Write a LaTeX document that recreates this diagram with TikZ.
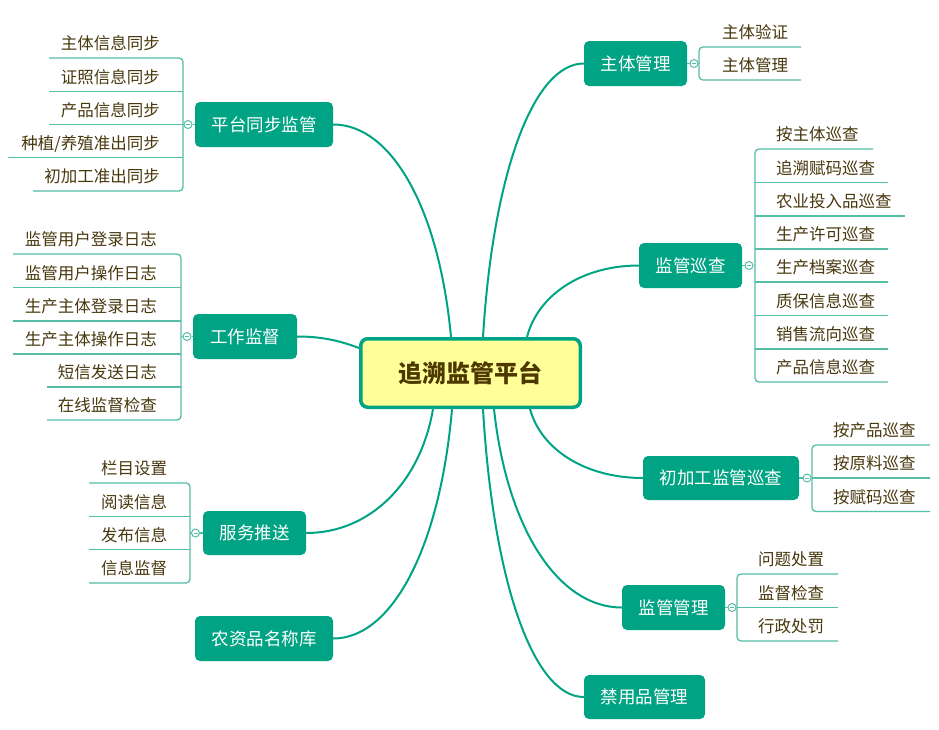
\documentclass[tikz,border=0pt]{standalone}
\usepackage{fontspec}
\setmainfont{Noto Sans CJK SC}
\definecolor{tealnode}{RGB}{0,163,131}
\definecolor{brkc}{RGB}{84,190,166}
\definecolor{leafc}{RGB}{72,56,14}
\definecolor{rootfill}{RGB}{255,255,153}
\definecolor{roottext}{RGB}{77,56,0}
\begin{document}
\begin{tikzpicture}[x=1pt,y=-1pt,
  branch/.style={rounded corners=5pt, fill=tealnode, text=white, font=\fontsize{17.5}{20}\selectfont, inner sep=0pt, minimum height=45pt},
  rootnode/.style={rounded corners=7pt, fill=rootfill, draw=tealnode, line width=3.5pt, text=roottext, font=\fontsize{24}{28}\selectfont\bfseries, inner sep=0pt, minimum width=219.5pt, minimum height=68.5pt},
  leaf/.style={text=leafc, font=\fontsize{16.5}{19}\selectfont, inner sep=0pt},
  link/.style={draw=tealnode, line width=2pt},
  brk/.style={draw=brkc, line width=1.3pt, rounded corners=4pt},
  brkl/.style={draw=brkc, line width=1.3pt},
  tog/.style={circle, draw=brkc, fill=white, line width=1pt, minimum size=8pt, inner sep=0pt}]
\useasboundingbox (0,0) rectangle (939,729);
\fill[white] (0,0) rectangle (939,729);

% root
\node[rootnode] (root) at (470.5,373) {追溯监管平台};

% branch nodes
\node[branch, minimum width=138pt] (ptsync) at (264,124.5) {平台同步监管};
\node[branch, minimum width=104pt] (gzjd) at (245,336.5) {工作监督};
\node[branch, minimum width=103pt, minimum height=44pt] (fwts) at (254.5,533) {服务推送};
\node[branch, minimum width=138pt] (nzp) at (264,638.5) {农资品名称库};
\node[branch, minimum width=103pt] (ztgl) at (635.5,63.5) {主体管理};
\node[branch, minimum width=103pt] (jgxc) at (690.5,265.5) {监管巡查};
\node[branch, minimum width=156pt, minimum height=44pt] (cjg) at (721,478) {初加工监管巡查};
\node[branch, minimum width=103pt] (jggl) at (673.5,607.5) {监管管理};
\node[branch, minimum width=121pt, minimum height=44pt] (jyp) at (644.5,697) {禁用品管理};

% connectors root -> branches
\draw[link] ([xshift=-19.5pt]root.north) .. controls (439.2,209.5) and (392,124.5) .. (ptsync.east);
\draw[link] ([xshift=12.5pt]root.north) .. controls (493.1,172.9) and (533.5,63.5) .. (ztgl.west);
\draw[link] ([xshift=56.5pt]root.north) .. controls (538.2,294.1) and (583,265.5) .. (jgxc.west);
\draw[link] ([yshift=25pt]root.west) .. controls (338,340) and (320,336.5) .. (gzjd.east);
\draw[link] ([xshift=-37.5pt]root.south) .. controls (420.3,483.4) and (369.5,533) .. (fwts.east);
\draw[link] ([xshift=-18.5pt]root.south) .. controls (440.1,546.7) and (392.5,638.5) .. (nzp.east);
\draw[link] ([xshift=12.5pt]root.south) .. controls (493.1,581.8) and (533.5,697) .. (jyp.west);
\draw[link] ([xshift=23.5pt]root.south) .. controls (506.8,528.1) and (558,607.5) .. (jggl.west);
\draw[link] ([xshift=59.5pt]root.south) .. controls (541.3,450.4) and (586.5,478) .. (cjg.west);

% ---------- group: 平台同步监管 ----------
\node[leaf, anchor=base east] (pt1) at (160,49.5) {主体信息同步};
\node[leaf, anchor=base east] (pt2) at (160,83) {证照信息同步};
\node[leaf, anchor=base east] (pt3) at (160,116) {产品信息同步};
\node[leaf, anchor=base east] (pt4) at (160,149) {种植/养殖准出同步};
\node[leaf, anchor=base east] (pt5) at (160,182.5) {初加工准出同步};
\draw[brk] (49,58) -- (183,58) -- (183,191) -- (33,191);
\draw[brkl] (49,91.5) -- (183,91.5);
\draw[brkl] (49,124.5) -- (183,124.5);
\draw[brkl] (8,157.5) -- (183,157.5);
\coordinate (ptb) at (183,124.5);
\node[tog] (ptt) at (188,124.5) {};
\draw[brkl] (ptb) -- (ptt.west);
\draw[brkl] (ptt.east) -- (ptsync.west);

% ---------- group: 工作监督 ----------
\node[leaf, anchor=base east] (gz1) at (157,245.5) {监管用户登录日志};
\node[leaf, anchor=base east] (gz2) at (157,279) {监管用户操作日志};
\node[leaf, anchor=base east] (gz3) at (157,312.5) {生产主体登录日志};
\node[leaf, anchor=base east] (gz4) at (157,345.5) {生产主体操作日志};
\node[leaf, anchor=base east] (gz5) at (157,378.5) {短信发送日志};
\node[leaf, anchor=base east] (gz6) at (157,411.5) {在线监督检查};
\draw[brk] (13,254) -- (181,254) -- (181,420) -- (47,420);
\draw[brkl] (13,287.5) -- (181,287.5);
\draw[brkl] (13,321) -- (181,321);
\draw[brkl] (13,354) -- (181,354);
\draw[brkl] (47,387) -- (181,387);
\coordinate (gzb) at (181,336.5);
\node[tog] (gzt) at (187,336.5) {};
\draw[brkl] (gzb) -- (gzt.west);
\draw[brkl] (gzt.east) -- (gzjd.west);

% ---------- group: 服务推送 ----------
\node[leaf, anchor=base west] (fw1) at (101,474.5) {栏目设置};
\node[leaf, anchor=base west] (fw2) at (101,508) {阅读信息};
\node[leaf, anchor=base west] (fw3) at (101,541) {发布信息};
\node[leaf, anchor=base west] (fw4) at (101,574.5) {信息监督};
\draw[brk] (89,483) -- (190,483) -- (190,583) -- (89,583);
\draw[brkl] (89,516.5) -- (190,516.5);
\draw[brkl] (89,549.5) -- (190,549.5);
\coordinate (fwb) at (190,533);
\node[tog] (fwt) at (195.5,533) {};
\draw[brkl] (fwb) -- (fwt.west);
\draw[brkl] (fwt.east) -- (fwts.west);

% ---------- group: 主体管理 ----------
\node[leaf, anchor=base west] (zt1) at (722,38.5) {主体验证};
\node[leaf, anchor=base west] (zt2) at (722,71.5) {主体管理};
\draw[brk] (801,47) -- (699,47) -- (699,80) -- (801,80);
\coordinate (ztb) at (699,63.5);
\node[tog] (ztt) at (694,63.5) {};
\draw[brkl] (ztgl.east) -- (ztt.west);
\draw[brkl] (ztt.east) -- (ztb);

% ---------- group: 监管巡查 ----------
\node[leaf, anchor=base west] (xc1) at (776,140.5) {按主体巡查};
\node[leaf, anchor=base west] (xc2) at (776,174) {追溯赋码巡查};
\node[leaf, anchor=base west] (xc3) at (776,207.5) {农业投入品巡查};
\node[leaf, anchor=base west] (xc4) at (776,240.5) {生产许可巡查};
\node[leaf, anchor=base west] (xc5) at (776,273.5) {生产档案巡查};
\node[leaf, anchor=base west] (xc6) at (776,307) {质保信息巡查};
\node[leaf, anchor=base west] (xc7) at (776,340.5) {销售流向巡查};
\node[leaf, anchor=base west] (xc8) at (776,373.5) {产品信息巡查};
\draw[brk] (873,149) -- (755,149) -- (755,382) -- (888,382);
\draw[brkl] (755,182.5) -- (888,182.5);
\draw[brkl] (755,216) -- (905,216);
\draw[brkl] (755,249) -- (888,249);
\draw[brkl] (755,282) -- (888,282);
\draw[brkl] (755,315.5) -- (888,315.5);
\draw[brkl] (755,349) -- (888,349);
\coordinate (xcb) at (755,265.5);
\node[tog] (xct) at (749,265.5) {};
\draw[brkl] (jgxc.east) -- (xct.west);
\draw[brkl] (xct.east) -- (xcb);

% ---------- group: 初加工监管巡查 ----------
\node[leaf, anchor=base west] (cj1) at (833,436.5) {按产品巡查};
\node[leaf, anchor=base west] (cj2) at (833,469.5) {按原料巡查};
\node[leaf, anchor=base west] (cj3) at (833,503) {按赋码巡查};
\draw[brk] (930,445) -- (812,445) -- (812,511.5) -- (930,511.5);
\draw[brkl] (812,478) -- (930,478);
\coordinate (cjb) at (812,478);
\node[tog] (cjt) at (807,478) {};
\draw[brkl] (cjg.east) -- (cjt.west);
\draw[brkl] (cjt.east) -- (cjb);

% ---------- group: 监管管理 ----------
\node[leaf, anchor=base west] (gl1) at (758,565.5) {问题处置};
\node[leaf, anchor=base west] (gl2) at (758,599) {监督检查};
\node[leaf, anchor=base west] (gl3) at (758,632.5) {行政处罚};
\draw[brk] (838,574) -- (737,574) -- (737,641) -- (838,641);
\draw[brkl] (737,607.5) -- (838,607.5);
\coordinate (glb) at (737,607.5);
\node[tog] (glt) at (732,607.5) {};
\draw[brkl] (jggl.east) -- (glt.west);
\draw[brkl] (glt.east) -- (glb);

% minus signs in toggles
\foreach \t in {ptt,gzt,fwt,ztt,xct,cjt,glt}
  \draw[brkc, line width=0.8pt] ([xshift=-2pt]\t.center) -- ([xshift=2pt]\t.center);
\end{tikzpicture}
\end{document}
